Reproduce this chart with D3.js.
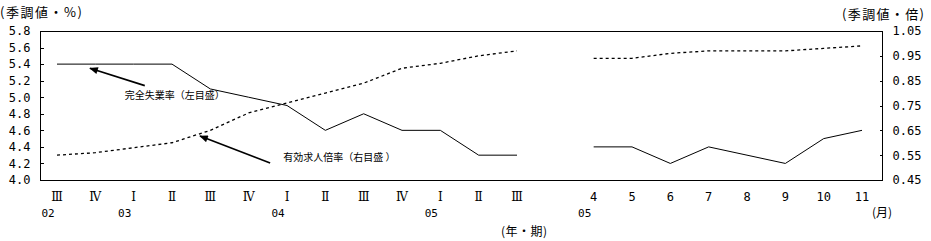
<!DOCTYPE html>
<html>
<head>
<meta charset="utf-8">
<script src="https://cdn.jsdelivr.net/npm/d3@7/dist/d3.min.js"></script>
<style>
  body { margin: 0; background: #fff; }
  svg { display: block; }
  .num { font-family: "DejaVu Sans Mono", monospace; font-size: 12px; }
  .jp { font-family: "Noto Sans CJK JP", sans-serif; }
  .roman { font-family: "DejaVu Serif", serif; font-size: 12px; }
</style>
</head>
<body>
<svg id="chart" width="931" height="241"></svg>
<script>
// 期間：四半期（02年Ⅲ〜05年Ⅲ）、空き1つ、月次（05年4月〜11月）
const periods = ['02Q3', '02Q4', '03Q1', '03Q2', '03Q3', '03Q4', '04Q1', '04Q2', '04Q3', '04Q4',
  '05Q1', '05Q2', '05Q3', 'gap', '0504', '0505', '0506', '0507', '0508', '0509', '0510', '0511'];
const periodLabels = ['Ⅲ', 'Ⅳ', 'Ⅰ', 'Ⅱ', 'Ⅲ', 'Ⅳ', 'Ⅰ', 'Ⅱ', 'Ⅲ', 'Ⅳ',
  'Ⅰ', 'Ⅱ', 'Ⅲ', '', '4', '5', '6', '7', '8', '9', '10', '11'];
const yearStarts = ['02Q3', '03Q1', '04Q1', '05Q1', '0504'];
const yearLabels = ['02', '03', '04', '05', '05'];

// 完全失業率（%、左目盛）
const unemployment = [5.4, 5.4, 5.4, 5.4, 5.1, 5.0, 4.9, 4.6, 4.8, 4.6,
  4.6, 4.3, 4.3, null, 4.4, 4.4, 4.2, 4.4, 4.3, 4.2, 4.5, 4.6];
// 有効求人倍率（倍、右目盛）
const jobRatio = [0.55, 0.56, 0.58, 0.60, 0.65, 0.72, 0.76, 0.80, 0.84, 0.90,
  0.92, 0.95, 0.97, null, 0.94, 0.94, 0.96, 0.97, 0.97, 0.97, 0.98, 0.99];

const leftTicks = [4.0, 4.2, 4.4, 4.6, 4.8, 5.0, 5.2, 5.4, 5.6, 5.8];
const rightTicks = [0.45, 0.55, 0.65, 0.75, 0.85, 0.95, 1.05];

const svg = d3.select('#chart');
const plot = { left: 40, right: 882, top: 31, bottom: 180 };

const x = d3.scaleLinear().domain([0, periods.length - 1]).range([57, 862]);
const yL = d3.scaleLinear().domain([4.0, 5.8]).range([plot.bottom, plot.top]);
const yR = d3.scaleLinear().domain([0.45, 1.05]).range([plot.bottom, plot.top]);

// 枠
svg.append('rect')
  .attr('x', plot.left + 0.5)
  .attr('y', plot.top + 0.5)
  .attr('width', plot.right - plot.left)
  .attr('height', plot.bottom - plot.top)
  .style('fill', 'none')
  .style('stroke', '#000')
  .style('shape-rendering', 'crispEdges');

// 左目盛
const leftAxis = svg.append('g')
  .attr('transform', `translate(${plot.left + 0.5},0)`)
  .call(d3.axisLeft(yL).tickValues(leftTicks).tickSize(-3).tickPadding(10).tickFormat(d3.format('.1f')));

// 右目盛
const rightAxis = svg.append('g')
  .attr('transform', `translate(${plot.right + 0.5},0)`)
  .call(d3.axisRight(yR).tickValues(rightTicks).tickSize(-3).tickPadding(10).tickFormat(d3.format('.2f')));

[leftAxis, rightAxis].forEach(g => {
  g.select('.domain').remove();
  g.attr('font-family', null).attr('font-size', null);
  g.selectAll('text').attr('class', 'num').style('fill', '#000');
  g.selectAll('line').style('stroke', '#000').style('shape-rendering', 'crispEdges');
});

// 期の目盛ラベル
svg.append('g')
  .selectAll('text')
  .data(periodLabels)
  .enter()
  .append('text')
  .attr('class', (d, i) => i < 13 ? 'roman' : 'num')
  .attr('x', (d, i) => x(i))
  .attr('y', 201)
  .attr('text-anchor', 'middle')
  .text(d => d);

// 年ラベル
svg.append('g')
  .selectAll('text')
  .data(yearLabels)
  .enter()
  .append('text')
  .attr('class', 'num')
  .style('font-size', '11px')
  .attr('x', (d, i) => x(periods.indexOf(yearStarts[i])) - 9)
  .attr('y', 217)
  .attr('text-anchor', 'middle')
  .text(d => d);

// 系列
const seriesLine = (scale) => d3.line()
  .defined(d => d != null)
  .x((d, i) => x(i))
  .y(d => scale(d));

svg.append('path')
  .datum(unemployment)
  .attr('d', seriesLine(yL))
  .style('fill', 'none')
  .style('stroke', '#000')
  .style('stroke-width', 1);

svg.append('path')
  .datum(jobRatio)
  .attr('d', seriesLine(yR))
  .style('fill', 'none')
  .style('stroke', '#000')
  .style('stroke-width', 1.3)
  .style('stroke-dasharray', '3,3');

// 矢印付き注記
svg.append('defs')
  .append('marker')
  .attr('id', 'arrow')
  .attr('viewBox', '0 0 10 8')
  .attr('refX', 9)
  .attr('refY', 4)
  .attr('markerUnits', 'userSpaceOnUse')
  .attr('markerWidth', 10)
  .attr('markerHeight', 7)
  .attr('orient', 'auto')
  .append('path')
  .attr('d', 'M0,0L10,4L0,8z')
  .style('fill', '#000');

const annotations = [
  { text: '完全失業率（左目盛）', scale: yL, textAt: [1.77, 4.98], from: [2.29, 5.14], to: [0.86, 5.35] },
  { text: '有効求人倍率（右目盛 ）', scale: yR, textAt: [5.9, 0.527], from: [5.56, 0.518], to: [3.73, 0.627] }
];

const note = svg.append('g')
  .selectAll('g')
  .data(annotations)
  .enter()
  .append('g');

note.append('line')
  .attr('x1', d => x(d.from[0]))
  .attr('y1', d => d.scale(d.from[1]))
  .attr('x2', d => x(d.to[0]))
  .attr('y2', d => d.scale(d.to[1]))
  .style('stroke', '#000')
  .style('stroke-width', 1.6)
  .attr('marker-end', 'url(#arrow)');

note.append('text')
  .attr('class', 'jp')
  .style('font-size', '10px')
  .attr('x', d => x(d.textAt[0]))
  .attr('y', d => d.scale(d.textAt[1]))
  .text(d => d.text);

// 単位
svg.append('text').attr('class', 'jp').style('font-size', '13px')
  .attr('x', 0).attr('y', 17).attr('textLength', 82).text('(季調値・%)');
svg.append('text').attr('class', 'jp').style('font-size', '13px')
  .attr('x', 842).attr('y', 19).attr('textLength', 82).text('(季調値・倍)');
svg.append('text').attr('class', 'jp').style('font-size', '12px')
  .attr('x', 524).attr('y', 236).attr('text-anchor', 'middle').attr('textLength', 46).text('(年・期)');
svg.append('text').attr('class', 'jp').style('font-size', '12px')
  .attr('x', 882).attr('y', 217).attr('text-anchor', 'middle').text('(月)');
</script>
</body>
</html>
